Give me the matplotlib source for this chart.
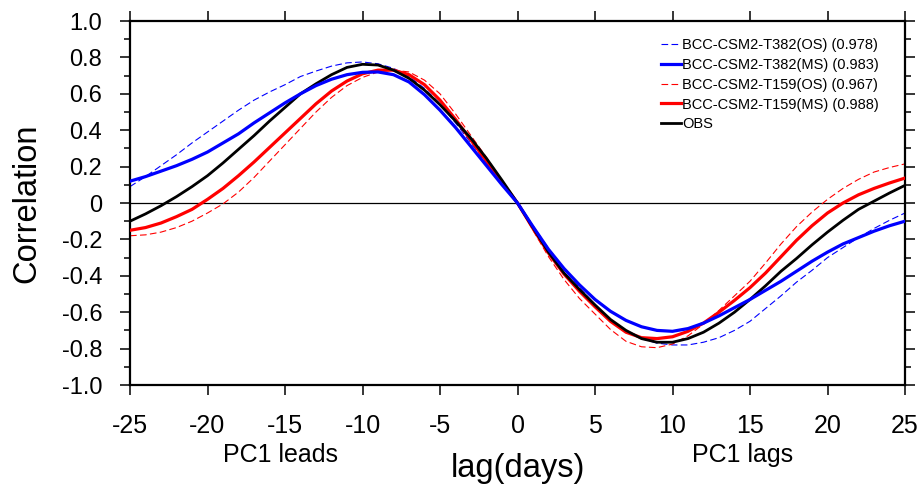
import numpy as np
import matplotlib
matplotlib.use("Agg")
import matplotlib.pyplot as plt
import matplotlib.transforms as mtransforms

plt.rcParams['font.family'] = ['Liberation Sans', 'DejaVu Sans']
plt.rcParams['axes.unicode_minus'] = False

# lag days and correlation curves
lags = list(range(-25, 26))

t382_os = [0.09, 0.145, 0.205, 0.265, 0.33, 0.39, 0.45, 0.51, 0.565, 0.61,
           0.65, 0.695, 0.725, 0.752, 0.77, 0.775, 0.765, 0.74, 0.695, 0.63,
           0.545, 0.44, 0.33, 0.22, 0.11, 0.0, -0.125, -0.25, -0.36, -0.465,
           -0.56, -0.64, -0.70, -0.745, -0.77, -0.78, -0.78, -0.765, -0.74, -0.70,
           -0.65, -0.58, -0.51, -0.435, -0.37, -0.30, -0.245, -0.19, -0.14, -0.095,
           -0.055]
t382_ms = [0.12, 0.145, 0.175, 0.205, 0.24, 0.28, 0.33, 0.38, 0.44, 0.495,
           0.55, 0.60, 0.645, 0.68, 0.705, 0.718, 0.72, 0.705, 0.665, 0.595,
           0.51, 0.415, 0.31, 0.205, 0.10, 0.0, -0.13, -0.255, -0.36, -0.45,
           -0.53, -0.595, -0.645, -0.68, -0.70, -0.705, -0.69, -0.66, -0.62, -0.575,
           -0.53, -0.48, -0.43, -0.375, -0.32, -0.27, -0.225, -0.19, -0.155, -0.125,
           -0.10]
t159_os = [-0.18, -0.175, -0.16, -0.135, -0.10, -0.055, -0.005, 0.06, 0.14, 0.23,
           0.32, 0.41, 0.50, 0.58, 0.645, 0.69, 0.72, 0.73, 0.72, 0.675,
           0.60, 0.49, 0.37, 0.25, 0.125, 0.0, -0.15, -0.295, -0.42, -0.525,
           -0.61, -0.695, -0.76, -0.79, -0.795, -0.775, -0.73, -0.665, -0.59, -0.51,
           -0.43, -0.33, -0.225, -0.13, -0.05, 0.02, 0.08, 0.13, 0.17, 0.195,
           0.215]
t159_ms = [-0.15, -0.135, -0.11, -0.075, -0.035, 0.02, 0.08, 0.15, 0.225, 0.305,
           0.385, 0.465, 0.545, 0.615, 0.67, 0.71, 0.73, 0.73, 0.705, 0.65,
           0.565, 0.46, 0.345, 0.23, 0.115, 0.0, -0.14, -0.275, -0.39, -0.485,
           -0.57, -0.65, -0.71, -0.74, -0.745, -0.735, -0.705, -0.66, -0.60, -0.535,
           -0.465, -0.385, -0.295, -0.205, -0.125, -0.055, 0.0, 0.045, 0.08, 0.11,
           0.137]
obs = [-0.10, -0.06, -0.015, 0.035, 0.09, 0.15, 0.22, 0.295, 0.37, 0.45,
       0.525, 0.60, 0.655, 0.705, 0.745, 0.762, 0.758, 0.73, 0.685, 0.62,
       0.54, 0.45, 0.355, 0.245, 0.125, 0.0, -0.135, -0.27, -0.385, -0.475,
       -0.56, -0.64, -0.70, -0.745, -0.765, -0.765, -0.745, -0.71, -0.66, -0.60,
       -0.53, -0.455, -0.375, -0.305, -0.23, -0.16, -0.095, -0.035, 0.01, 0.055,
       0.097]

labels = ['BCC-CSM2-T382(OS) (0.978)', 'BCC-CSM2-T382(MS) (0.983)',
          'BCC-CSM2-T159(OS) (0.967)', 'BCC-CSM2-T159(MS) (0.988)', 'OBS']

W, H = 918, 484
fig = plt.figure(figsize=(W / 100, H / 100), dpi=100)
ax = fig.add_axes([130 / W, 1 - 385 / H, 775 / W, 364 / H])

ax.axhline(0, color='black', lw=0.9, zorder=1)

ax.plot(lags, t382_os, color='blue', lw=0.8, dashes=(6, 3), label=labels[0], zorder=2)
ax.plot(lags, t382_ms, color='blue', lw=2.3, label=labels[1], zorder=4)
ax.plot(lags, t159_os, color='red', lw=0.8, dashes=(6, 3), label=labels[2], zorder=2)
ax.plot(lags, t159_ms, color='red', lw=2.3, label=labels[3], zorder=3)
ax.plot(lags, obs, color='black', lw=2.0, label=labels[4], zorder=3)

ax.set_xlim(-25, 25)
ax.set_ylim(-1, 1)
ax.set_xticks(range(-25, 26, 5))
ax.set_yticks(np.arange(-1.0, 1.01, 0.2))
ax.set_yticks(np.arange(-0.9, 0.91, 0.2), minor=True)
ylabs = ['%.1f' % v if abs(v) > 1e-6 else '0' for v in np.arange(-1.0, 1.01, 0.2)]
ax.set_yticklabels(ylabs)

for s in ax.spines.values():
    s.set_linewidth(1.6)
ax.tick_params(which='major', direction='out', length=7, width=1.1,
               top=True, right=True)
ax.tick_params(which='minor', direction='out', length=4, width=1.1,
               top=False, right=True, left=True)
ax.tick_params(axis='y', which='major', pad=13, labelsize=17)
ax.tick_params(axis='x', which='major', pad=14, labelsize=18)

trans = mtransforms.blended_transform_factory(ax.transData, ax.transAxes)
ax.text(-15.3, -0.2115, 'PC1 leads', transform=trans, ha='center', va='baseline', fontsize=18)
ax.text(14.5, -0.2115, 'PC1 lags', transform=trans, ha='center', va='baseline', fontsize=18)

fig.text(518 / W, 1 - 477 / H, 'lag(days)', ha='center', va='baseline', fontsize=23.5)
fig.text(27 / W, 1 - 203 / H, 'Correlation', rotation=90, ha='center', va='center', fontsize=23.5)

leg = ax.legend(loc='upper left', bbox_to_anchor=(661 / W, 1 - 38 / H),
                bbox_transform=fig.transFigure, frameon=False, fontsize=10.5,
                handlelength=1.4, handletextpad=0.05, labelspacing=0.4,
                borderpad=0, borderaxespad=0)

fig.savefig('out.png', dpi=100)
